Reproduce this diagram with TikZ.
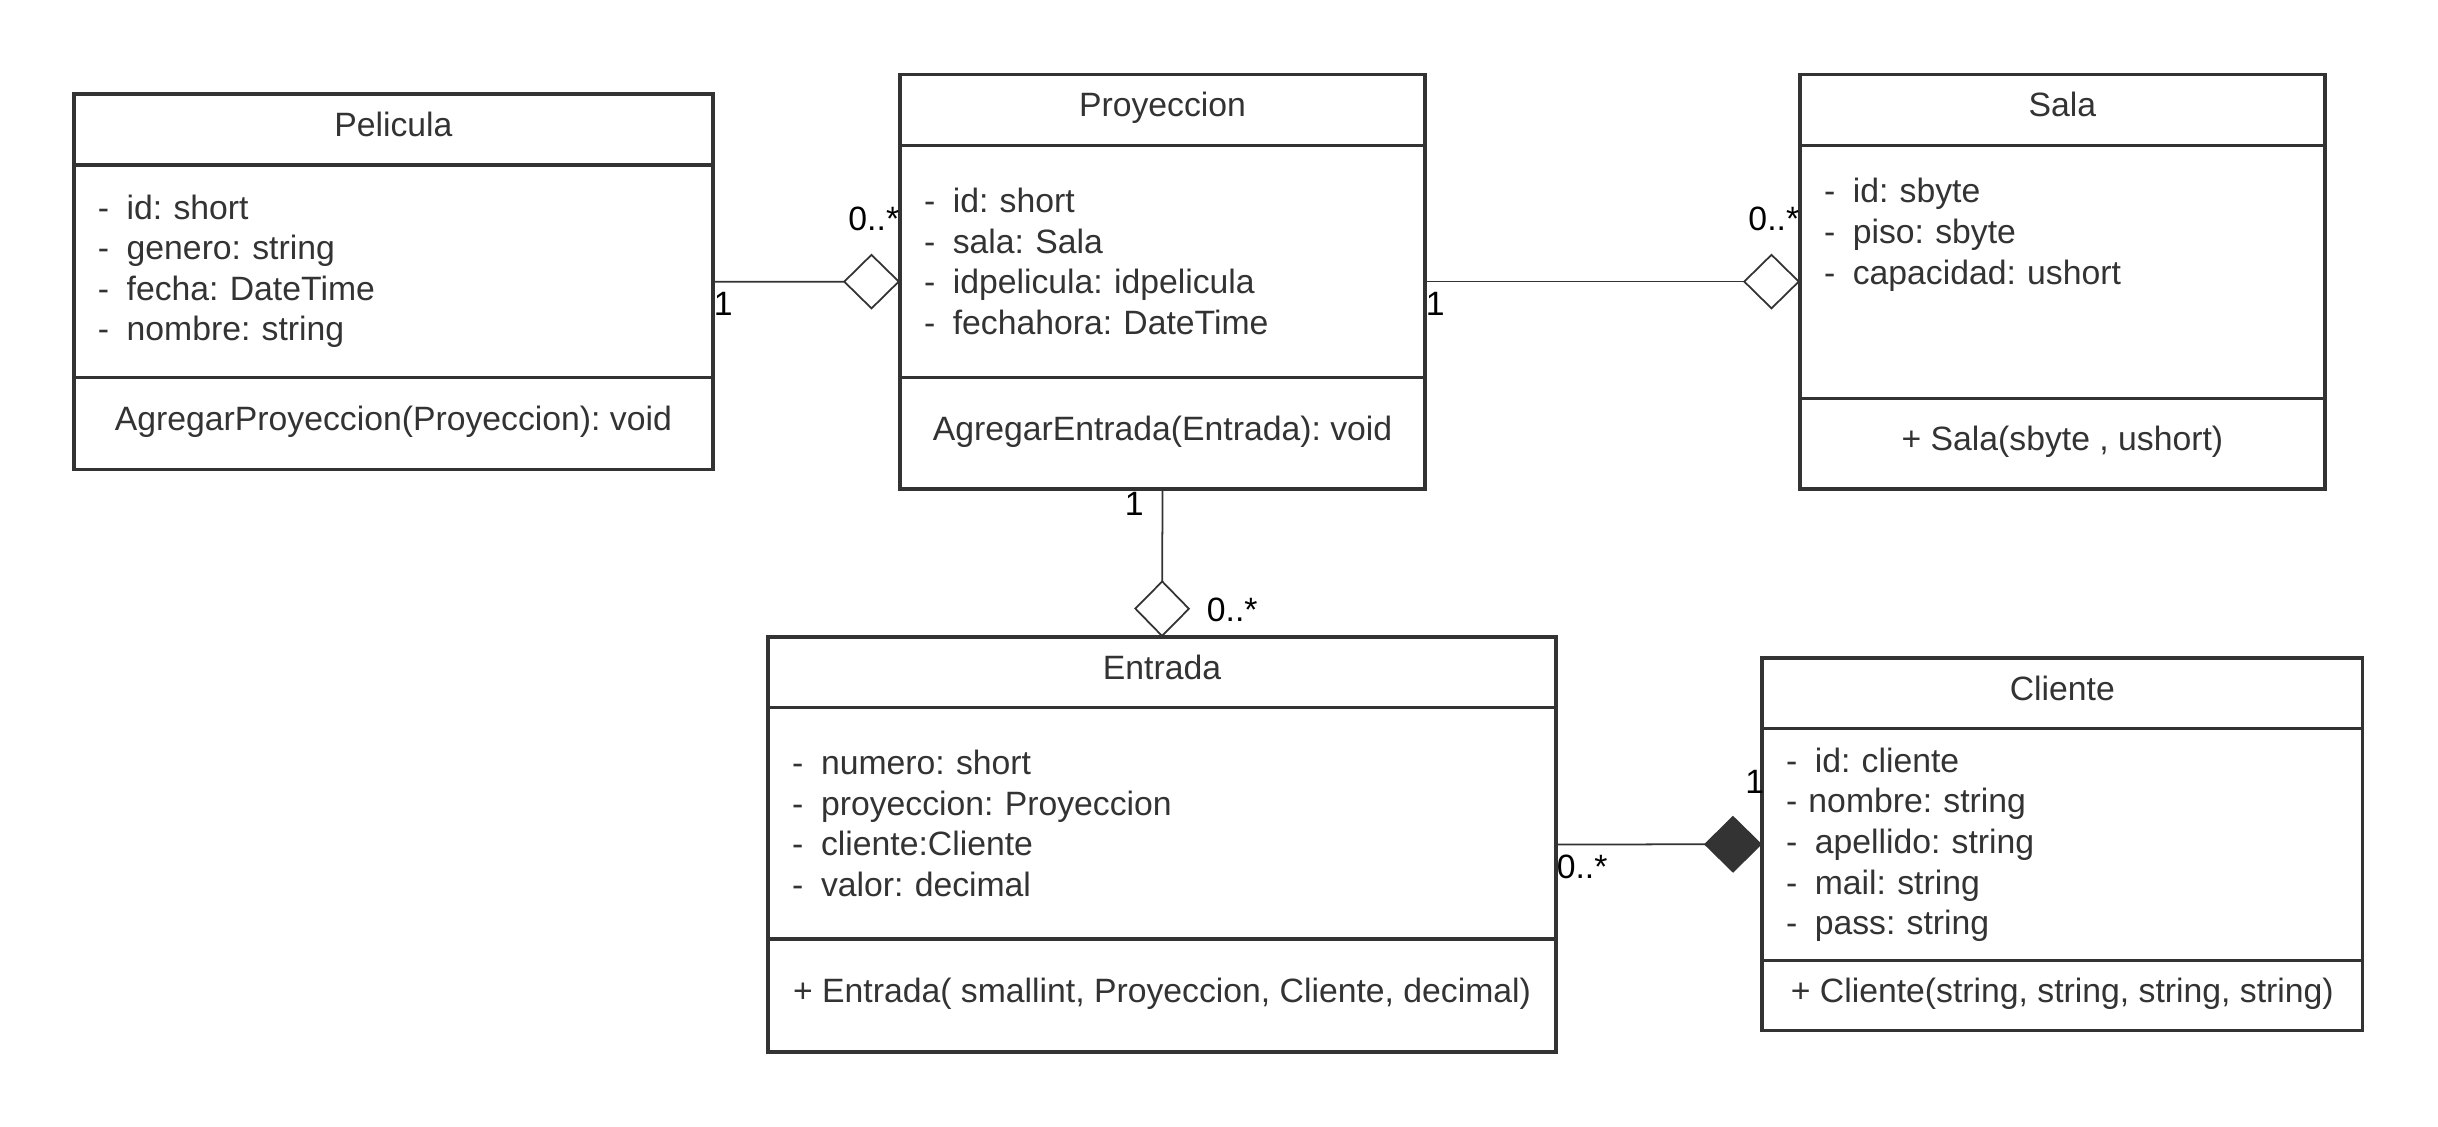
\documentclass[tikz,border=0pt]{standalone}
\usepackage{fontspec}
\setmainfont{Liberation Sans}
\usepackage{xcolor}
\usetikzlibrary{arrows.meta,positioning,fit}
\definecolor{umlgray}{HTML}{333333}
\frenchspacing
\newcommand{\attr}[1]{\makebox[8.2pt][l]{-}#1}
\tikzset{
  umlbase/.style={font=\fontsize{9.6pt}{11.55pt}\selectfont, text=umlgray, outer sep=0pt},
  classtitle/.style={umlbase, draw=umlgray, line width=1pt, minimum height=0.71cm, text height=8pt, text depth=4pt, inner sep=0pt},
  classattr/.style={umlbase, draw=umlgray, line width=1pt, align=left, inner xsep=2.4mm, inner ysep=0pt},
  classmeth/.style={umlbase, draw=umlgray, line width=1pt, text height=8pt, text depth=4pt, inner sep=0pt},
  classbox/.style={inner sep=0pt, outer sep=0pt},
  aggr/.style={-{Diamond[open, length=5.7mm, width=5.6mm]}, line width=0.5pt, draw=umlgray},
  comp/.style={-{Diamond[length=5.8mm, width=5.7mm]}, line width=0.5pt, draw=umlgray},
  mult/.style={font=\fontsize{9.6pt}{11.55pt}\selectfont, text=black, inner sep=0pt}
}

\begin{document}
\begin{tikzpicture}
  \path[fill=white, use as bounding box] (0,0) rectangle (24.38,-11.27);

  % Pelicula
  \node[classtitle, minimum width=6.391cm, anchor=north west] (pelT) at (0.739,-0.940) {Pelicula};
  \node[classattr, minimum width=6.391cm, text width=5.911cm, minimum height=2.127cm, below=0pt of pelT] (pelA)
    {\attr{id: short}\\ \attr{genero: string}\\ \attr{fecha: DateTime}\\ \attr{nombre: string}};
  \node[classmeth, minimum width=6.391cm, minimum height=0.919cm, below=0pt of pelA] (pelM) {AgregarProyeccion(Proyeccion): void};
  \node[classbox, fit=(pelT)(pelM)] (pel) {};

  % Proyeccion
  \node[classtitle, minimum width=5.25cm, anchor=north west] (proyT) at (9.00,-0.743) {Proyeccion};
  \node[classattr, minimum width=5.25cm, text width=4.77cm, minimum height=2.323cm, below=0pt of proyT] (proyA)
    {\attr{id: short}\\ \attr{sala: Sala}\\ \attr{idpelicula: idpelicula}\\ \attr{fechahora: DateTime}};
  \node[classmeth, minimum width=5.25cm, minimum height=1.113cm, below=0pt of proyA] (proyM) {AgregarEntrada(Entrada): void};
  \node[classbox, fit=(proyT)(proyM)] (proy) {};

  % Sala
  \node[classtitle, minimum width=5.248cm, anchor=north west] (salaT) at (18.00,-0.743) {Sala};
  \node[classattr, minimum width=5.248cm, text width=4.768cm, minimum height=2.532cm, below=0pt of salaT] (salaA)
    {\attr{id: sbyte}\\ \attr{piso: sbyte}\\ \attr{capacidad: ushort}\\ \mbox{}\\ \mbox{}};
  \node[classmeth, minimum width=5.248cm, minimum height=0.904cm, below=0pt of salaA] (salaM) {+ Sala(sbyte , ushort)};
  \node[classbox, fit=(salaT)(salaM)] (sala) {};

  % Entrada
  \node[classtitle, minimum width=7.877cm, minimum height=0.701cm, anchor=north west] (entT) at (7.682,-6.372) {Entrada};
  \node[classattr, minimum width=7.877cm, text width=7.397cm, minimum height=2.319cm, below=0pt of entT] (entA)
    {\attr{numero: short}\\ \attr{proyeccion: Proyeccion}\\ \attr{cliente:Cliente}\\ \attr{valor: decimal}};
  \node[classmeth, minimum width=7.877cm, minimum height=1.126cm, below=0pt of entA] (entM) {+ Entrada( smallint, Proyeccion, Cliente, decimal)};
  \node[classbox, fit=(entT)(entM)] (ent) {};

  % Cliente
  \node[classtitle, minimum width=6.007cm, minimum height=0.705cm, anchor=north west] (cliT) at (17.62,-6.582) {Cliente};
  \node[classattr, minimum width=6.007cm, text width=5.527cm, minimum height=2.32cm, below=0pt of cliT] (cliA)
    {\attr{id: cliente}\\ - nombre: string\\ \attr{apellido: string}\\ \attr{mail: string}\\ \attr{pass: string}};
  \node[classmeth, minimum width=6.007cm, minimum height=0.696cm, below=0pt of cliA] (cliM) {+ Cliente(string, string, string, string)};
  \node[classbox, fit=(cliT)(cliM)] (cli) {};

  % Associations
  \draw[aggr] (pel.east) --
    node[mult, pos=0, anchor=north west, yshift=-1mm] (pelOne) {1}
    node[mult, pos=1, anchor=south east, yshift=5mm] (proyMany) {0..*} (proy.west);
  \draw[aggr] (proy.east) --
    node[mult, pos=0, anchor=north west, yshift=-1mm] (proyOne) {1}
    node[mult, pos=1, anchor=south east, yshift=5mm] (salaMany) {0..*} (sala.west);
  \draw[aggr] (proy.south) --
    node[mult, pos=0, anchor=north east, xshift=-1.8mm, yshift=-0.3mm] (proyOneB) {1}
    node[mult, pos=1, anchor=south west, xshift=4.4mm, yshift=1.4mm] (entMany) {0..*} (ent.north);
  \draw[comp] (ent.east) --
    node[mult, pos=0, anchor=north west, yshift=-1mm] (entManyB) {0..*}
    node[mult, pos=1, anchor=south east, xshift=0.3mm, yshift=5mm] (cliOne) {1} (cli.west);
\end{tikzpicture}
\end{document}
